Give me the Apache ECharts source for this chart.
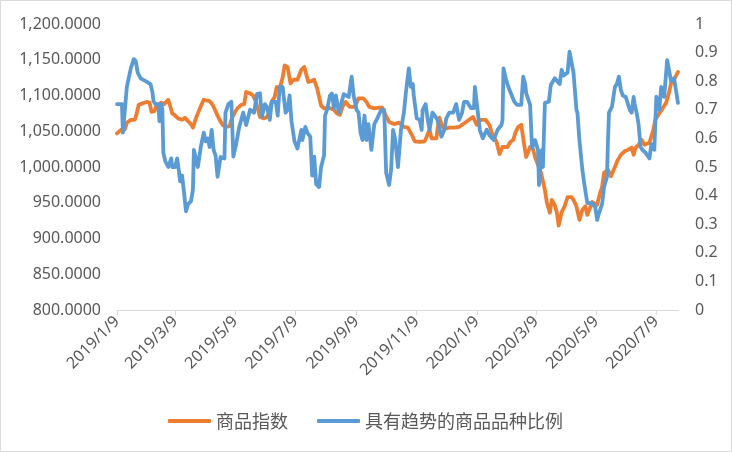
<!DOCTYPE html>
<html>
<head>
<meta charset="utf-8">
<script src="https://cdn.jsdelivr.net/npm/echarts@6/dist/echarts.min.js"></script>
<style>
html,body{margin:0;padding:0;background:#fff;}
#chart{width:732px;height:452px;}
</style>
</head>
<body>
<div id="chart"></div>
<script>
// ---------- data ----------
const seriesNames = ['商品指数', '具有趋势的商品品种比例'];

const xTickDates = ['2019-01-09','2019-03-09','2019-05-09','2019-07-09','2019-09-09','2019-11-09',
  '2020-01-09','2020-03-09','2020-05-09','2020-07-09'];

const orangeDates = [
  '2019-01-09','2019-01-13','2019-01-17','2019-01-19','2019-01-23','2019-01-27','2019-01-29','2019-01-31',
  '2019-02-04','2019-02-08','2019-02-11','2019-02-13','2019-02-16','2019-02-18','2019-02-23','2019-02-26',
  '2019-03-02','2019-03-04','2019-03-06','2019-03-09','2019-03-12','2019-03-16','2019-03-19','2019-03-22','2019-03-25','2019-03-27','2019-03-30',
  '2019-04-01','2019-04-04','2019-04-07','2019-04-10','2019-04-13','2019-04-16','2019-04-20','2019-04-23','2019-04-26','2019-04-30',
  '2019-05-03','2019-05-05','2019-05-08','2019-05-11','2019-05-15','2019-05-18','2019-05-20','2019-05-24','2019-05-27','2019-05-30',
  '2019-06-03','2019-06-07','2019-06-10','2019-06-12','2019-06-15','2019-06-18','2019-06-20','2019-06-23','2019-06-26','2019-06-28',
  '2019-07-01','2019-07-04','2019-07-07','2019-07-11','2019-07-15','2019-07-18','2019-07-22','2019-07-25','2019-07-28','2019-07-31',
  '2019-08-04','2019-08-07','2019-08-12','2019-08-17','2019-08-20','2019-08-23','2019-08-26','2019-08-29',
  '2019-09-02','2019-09-07','2019-09-11','2019-09-16','2019-09-19','2019-09-22','2019-09-27',
  '2019-10-02','2019-10-05','2019-10-08','2019-10-12','2019-10-17','2019-10-22','2019-10-27','2019-10-31',
  '2019-11-04','2019-11-07','2019-11-12','2019-11-17','2019-11-19','2019-11-22','2019-11-24','2019-11-29','2019-11-30',
  '2019-12-02','2019-12-05','2019-12-09','2019-12-12','2019-12-17','2019-12-22','2019-12-29',
  '2020-01-05','2020-01-09','2020-01-12','2020-01-18','2020-01-22','2020-01-24','2020-01-29',
  '2020-02-01','2020-02-04','2020-02-09','2020-02-12','2020-02-15','2020-02-17','2020-02-20','2020-02-23','2020-02-25','2020-02-26','2020-02-28',
  '2020-03-03','2020-03-06','2020-03-08','2020-03-11','2020-03-14','2020-03-18','2020-03-20','2020-03-23','2020-03-25','2020-03-28','2020-03-30',
  '2020-04-01','2020-04-04','2020-04-07','2020-04-10','2020-04-14','2020-04-16','2020-04-19','2020-04-22','2020-04-25','2020-04-28','2020-04-30',
  '2020-05-02','2020-05-05','2020-05-10','2020-05-13','2020-05-15','2020-05-17','2020-05-21','2020-05-24','2020-05-28','2020-05-31',
  '2020-06-03','2020-06-07','2020-06-10','2020-06-14','2020-06-16','2020-06-18','2020-06-21','2020-06-24','2020-06-27',
  '2020-07-02','2020-07-06','2020-07-08','2020-07-12','2020-07-15','2020-07-19','2020-07-22','2020-07-24','2020-07-27','2020-07-31'
];
const orangeValues = [
  1047,1052,1053,1062,1066,1066,1075,1087,
  1089,1091,1090,1077,1078,1086,1090,1088,
  1094,1085,1075,1072,1068,1066,1069,1064,1060,1055,1068,
  1075,1085,1094,1093,1092,1087,1075,1066,1059,1056,
  1057,1066,1075,1082,1087,1088,1105,1103,1100,1091,
  1070,1068,1070,1075,1092,1098,1112,1110,1125,1142,
  1140,1117,1122,1122,1136,1140,1119,1120,1122,1110,
  1086,1082,1083,1080,1075,1073,1085,1091,
  1084,1084,1096,1096,1091,1084,1082,
  1083,1083,1074,1063,1060,1062,1056,1055,
  1045,1036,1035,1036,1042,1052,1040,1040,1052,
  1069,1056,1054,1055,1055,1056,1063,
  1070,1059,1066,1066,1058,1048,1035,
  1018,1028,1028,1035,1038,1048,1056,1059,1057,1031,1014,
  1028,1025,1014,1003,992,968,950,936,954,947,937,
  918,937,945,958,958,954,945,926,940,945,933,
  940,951,947,964,972,992,996,987,1000,1010,
  1017,1022,1024,1027,1017,1027,1031,1038,1031,
  1034,1052,1066,1075,1081,1090,1105,1117,1122,1133
];

const blueDates = [
  '2019-01-09','2019-01-14','2019-01-15','2019-01-17','2019-01-19','2019-01-23','2019-01-26','2019-01-28','2019-01-30',
  '2019-02-02','2019-02-07','2019-02-12','2019-02-14','2019-02-15','2019-02-17','2019-02-20','2019-02-21','2019-02-23','2019-02-24','2019-02-25','2019-02-27',
  '2019-03-02','2019-03-05','2019-03-06','2019-03-09','2019-03-11','2019-03-13','2019-03-14','2019-03-16','2019-03-18','2019-03-20','2019-03-22','2019-03-25','2019-03-27','2019-03-28','2019-03-30',
  '2019-04-01','2019-04-04','2019-04-07','2019-04-09','2019-04-11','2019-04-13','2019-04-15','2019-04-17','2019-04-19','2019-04-21','2019-04-24','2019-04-28','2019-04-29',
  '2019-05-02','2019-05-05','2019-05-07','2019-05-10','2019-05-13','2019-05-17','2019-05-20','2019-05-24','2019-05-28','2019-05-31',
  '2019-06-03','2019-06-05','2019-06-08','2019-06-10','2019-06-13','2019-06-15','2019-06-19','2019-06-21','2019-06-23','2019-06-26','2019-06-29',
  '2019-07-01','2019-07-03','2019-07-05','2019-07-08','2019-07-11','2019-07-15','2019-07-16','2019-07-19','2019-07-21','2019-07-24','2019-07-26','2019-07-28','2019-07-30',
  '2019-08-02','2019-08-04','2019-08-07','2019-08-08','2019-08-10','2019-08-13','2019-08-15','2019-08-17','2019-08-19','2019-08-22','2019-08-24','2019-08-27','2019-08-29',
  '2019-09-01','2019-09-04','2019-09-06','2019-09-09','2019-09-11','2019-09-13','2019-09-15','2019-09-17','2019-09-19','2019-09-21','2019-09-24','2019-09-27','2019-09-30',
  '2019-10-04','2019-10-07','2019-10-09','2019-10-12','2019-10-14','2019-10-16','2019-10-18','2019-10-21','2019-10-24','2019-10-27','2019-10-29',
  '2019-11-01','2019-11-03','2019-11-05','2019-11-06','2019-11-09','2019-11-12','2019-11-14','2019-11-15','2019-11-18','2019-11-20','2019-11-22','2019-11-25','2019-11-28','2019-11-30',
  '2019-12-04','2019-12-07','2019-12-09','2019-12-12','2019-12-16','2019-12-19','2019-12-22','2019-12-25','2019-12-27','2019-12-30',
  '2020-01-03','2020-01-06','2020-01-07','2020-01-09','2020-01-12','2020-01-15','2020-01-19','2020-01-22','2020-01-26','2020-01-30',
  '2020-02-03','2020-02-04','2020-02-05','2020-02-08','2020-02-11','2020-02-16','2020-02-19','2020-02-23','2020-02-25','2020-02-27','2020-02-28',
  '2020-03-03','2020-03-05','2020-03-08','2020-03-11','2020-03-12','2020-03-15','2020-03-16','2020-03-18','2020-03-22','2020-03-24','2020-03-26','2020-03-28',
  '2020-04-02','2020-04-04','2020-04-06','2020-04-10','2020-04-12','2020-04-14','2020-04-16','2020-04-19','2020-04-20','2020-04-22','2020-04-25','2020-04-27','2020-04-30',
  '2020-05-02','2020-05-05','2020-05-08','2020-05-10','2020-05-12','2020-05-15','2020-05-17','2020-05-20','2020-05-21','2020-05-22','2020-05-25','2020-05-28','2020-05-30',
  '2020-06-01','2020-06-03','2020-06-05','2020-06-08','2020-06-10','2020-06-12','2020-06-14','2020-06-16','2020-06-17','2020-06-19','2020-06-21','2020-06-23','2020-06-25','2020-06-28',
  '2020-07-02','2020-07-04','2020-07-07','2020-07-09','2020-07-11','2020-07-12','2020-07-14','2020-07-17','2020-07-20','2020-07-22','2020-07-24','2020-07-27','2020-07-29','2020-07-31'
];
const blueValues = [
  0.72,0.72,0.62,0.70,0.78,0.845,0.877,0.87,0.83,
  0.81,0.80,0.79,0.76,0.73,0.72,0.72,0.66,0.72,0.70,0.55,0.52,
  0.50,0.53,0.50,0.50,0.53,0.48,0.45,0.47,0.41,0.345,0.37,0.38,0.42,0.56,0.53,
  0.50,0.57,0.62,0.59,0.60,0.57,0.63,0.56,0.54,0.466,0.535,0.53,0.69,
  0.72,0.728,0.536,0.583,0.64,0.69,0.647,0.70,0.69,0.755,
  0.758,0.676,0.72,0.71,0.665,0.728,0.728,0.68,0.78,0.78,0.69,
  0.70,0.75,0.66,0.59,0.565,0.63,0.594,0.64,0.62,0.606,0.47,0.536,0.44,
  0.43,0.50,0.54,0.68,0.70,0.75,0.757,0.706,0.75,0.69,0.69,0.755,0.755,
  0.745,0.816,0.75,0.70,0.69,0.62,0.594,0.68,0.594,0.65,0.56,0.65,0.67,
  0.70,0.70,0.48,0.437,0.49,0.63,0.60,0.50,0.63,0.69,0.76,
  0.845,0.78,0.79,0.75,0.67,0.665,0.63,0.70,0.72,0.67,0.63,0.69,0.676,0.665,
  0.606,0.63,0.67,0.69,0.69,0.72,0.665,0.69,0.728,0.728,
  0.706,0.706,0.78,0.72,0.63,0.60,0.63,0.61,0.594,0.63,
  0.647,0.665,0.845,0.80,0.77,0.728,0.717,0.717,0.816,0.79,0.758,
  0.717,0.565,0.594,0.56,0.437,0.56,0.50,0.724,0.728,0.787,0.787,0.81,
  0.79,0.84,0.82,0.83,0.903,0.90,0.83,0.70,0.69,0.594,0.49,0.44,0.374,
  0.37,0.374,0.36,0.315,0.34,0.37,0.43,0.466,0.594,0.69,0.71,0.78,0.79,
  0.816,0.77,0.75,0.745,0.745,0.70,0.69,0.745,0.72,0.69,0.65,0.57,0.56,0.55,
  0.53,0.58,0.56,0.746,0.745,0.70,0.78,0.745,0.874,0.874,0.80,0.81,0.81,0.724
];

// ---------- helpers ----------
function toTs(s) {
  const p = s.split('-').map(Number);
  return new Date(p[0], p[1] - 1, p[2]).getTime();
}
function zip(dates, vals) { return dates.map((d, i) => [toTs(d), vals[i]]); }
function fmtThousands(v) {
  const parts = v.toFixed(4).split('.');
  parts[0] = parts[0].replace(/\B(?=(\d{3})+(?!\d))/g, ',');
  return parts.join('.');
}

const textColor = '#595959';
const numFont = 'Noto Sans, Liberation Sans, sans-serif';
const cjkFont = 'Noto Sans CJK SC, sans-serif';

const chart = echarts.init(document.getElementById('chart'), null, { renderer: 'canvas' });
const tickTs = xTickDates.map(toTs);

chart.setOption({
  backgroundColor: '#ffffff',
  animation: false,
  graphic: [{
    type: 'rect', silent: true, z: -10,
    shape: { x: 0.5, y: 0.5, width: 731, height: 451 },
    style: { fill: 'none', stroke: '#D9D9D9', lineWidth: 1 }
  }],
  grid: { left: 117, right: 54, top: 24, bottom: 142, containLabel: false },
  legend: {
    left: 163, top: 407,
    icon: 'roundRect', itemWidth: 43, itemHeight: 4, itemGap: 29,
    textStyle: { color: textColor, fontSize: 18, fontFamily: cjkFont },
    data: seriesNames
  },
  xAxis: {
    type: 'value',
    min: toTs('2019-01-09'),
    max: toTs('2020-07-31'),
    axisLine: { show: true, lineStyle: { color: '#D9D9D9', width: 1 } },
    axisTick: { show: true, length: 5, lineStyle: { color: '#D9D9D9' }, customValues: tickTs },
    splitLine: { show: false },
    axisLabel: {
      customValues: tickTs,
      rotate: 45, margin: 9,
      color: textColor, fontSize: 16, fontFamily: numFont,
      hideOverlap: false,
      formatter: function (v) {
        const d = new Date(v);
        return d.getFullYear() + '/' + (d.getMonth() + 1) + '/' + d.getDate();
      }
    }
  },
  yAxis: [{
    type: 'value', min: 800, max: 1200, interval: 50,
    axisLine: { show: false }, axisTick: { show: false }, splitLine: { show: false },
    axisLabel: { color: textColor, fontSize: 16, fontFamily: numFont, margin: 16, formatter: fmtThousands }
  }, {
    type: 'value', min: 0, max: 1, interval: 0.1,
    axisLine: { show: false }, axisTick: { show: false }, splitLine: { show: false },
    axisLabel: {
      color: textColor, fontSize: 16, fontFamily: numFont, margin: 17,
      formatter: function (v) { return String(Math.round(v * 10) / 10); }
    }
  }],
  series: [{
    name: seriesNames[0], type: 'line', yAxisIndex: 0,
    data: zip(orangeDates, orangeValues),
    showSymbol: false, symbol: 'none',
    lineStyle: { color: '#ED7D31', width: 3.8, cap: 'round', join: 'round' },
    itemStyle: { color: '#ED7D31' }, z: 2
  }, {
    name: seriesNames[1], type: 'line', yAxisIndex: 1,
    data: zip(blueDates, blueValues),
    showSymbol: false, symbol: 'none',
    lineStyle: { color: '#5B9BD5', width: 3.8, cap: 'round', join: 'round' },
    itemStyle: { color: '#5B9BD5' }, z: 3
  }]
});
</script>
</body>
</html>
